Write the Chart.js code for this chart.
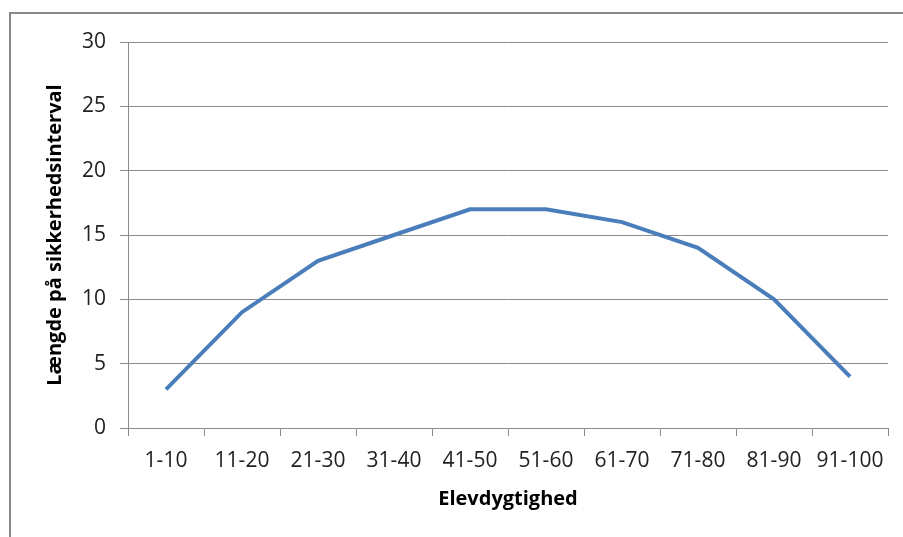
<!DOCTYPE html>
<html>
<head>
<meta charset="utf-8">
<script src="https://cdn.jsdelivr.net/npm/chart.js@4/dist/chart.umd.min.js"></script>
<style>
  html, body { margin: 0; padding: 0; background: #fff; }
  #wrap { position: relative; width: 903px; height: 537px; overflow: hidden; }
  #frame { position: absolute; left: 9px; top: 12px; width: 1000px; height: 600px; border: 2px solid #8a8a8a; box-sizing: border-box; }
  canvas { position: absolute; left: 0; top: 0; }
</style>
</head>
<body>
<div id="wrap">
  <div id="frame"></div>
  <canvas id="c" width="903" height="537"></canvas>
</div>
<script>
const categories = ["1-10", "11-20", "21-30", "31-40", "41-50", "51-60", "61-70", "71-80", "81-90", "91-100"];
const intervalLength = [3, 9, 13, 15, 17, 17, 16, 14, 10, 4];
const yTicks = [0, 5, 10, 15, 20, 25, 30];

const font = "'Open Sans', 'Liberation Sans', sans-serif";
const gray = "#8c8c8c";

const chart = new Chart(document.getElementById("c"), {
  type: "line",
  data: {
    labels: categories,
    datasets: [{
      data: intervalLength,
      borderColor: "#4a7ebb",
      borderWidth: 4,
      pointRadius: 0,
      tension: 0,
      fill: false
    }]
  },
  options: {
    responsive: false,
    animation: false,
    devicePixelRatio: 1,
    layout: { padding: { top: 42, right: 15, left: 0, bottom: 0 } },
    plugins: { legend: { display: false }, tooltip: { enabled: false } },
    scales: {
      x: {
        offset: true,
        grid: { offset: true, drawOnChartArea: false, drawTicks: true, tickLength: 8, color: gray },
        border: { color: gray, width: 1 },
        ticks: { color: "#222", font: { family: font, size: 21 }, padding: 12, maxRotation: 0, autoSkip: false },
        title: { display: true, text: "Elevdygtighed", color: "#000", font: { family: font, size: 20, weight: "bold" }, padding: { top: 26, bottom: 26 } },
        afterFit: s => { s.height = 109; }
      },
      y: {
        min: 0, max: 30,
        afterBuildTicks: s => { s.ticks = yTicks.map(v => ({ value: v })); },
        grid: { color: gray, tickLength: 8 },
        border: { color: gray, width: 1 },
        ticks: { color: "#222", font: { family: font, size: 21 }, padding: 14 },
        title: { display: true, text: "Længde på sikkerhedsinterval", color: "#000", font: { family: font, size: 20, weight: "bold" }, padding: { top: 43, bottom: 43 } },
        afterFit: s => { s.width = 128; }
      }
    }
  }
});
</script>
</body>
</html>
